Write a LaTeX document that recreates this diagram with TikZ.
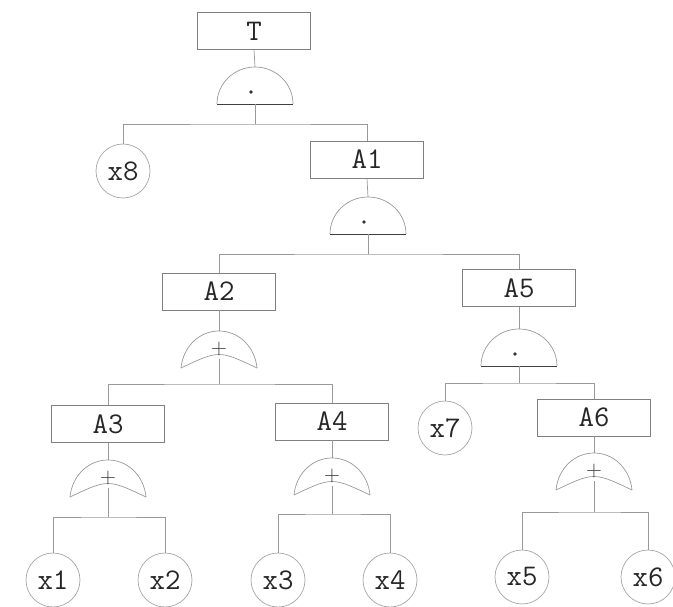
\documentclass[tikz,border=0pt]{standalone}
\begin{document}
\begin{tikzpicture}[x=1pt,y=-1pt]
\tikzset{
  lbl/.style={text=black!85, font=\fontsize{30}{34}\selectfont\ttfamily},
  conn/.style={draw=black!40, line width=0.7pt},
  evbox/.style={lbl, draw=black!50, line width=0.8pt, minimum width=113pt, minimum height=37pt, inner sep=0pt},
  basic/.style={lbl, circle, draw=black!35, line width=0.7pt, minimum size=54pt, inner sep=0pt},
  gateline/.style={draw=black!40, line width=0.7pt},
  gatebase/.style={draw=black!75, line width=0.9pt},
  andgate/.pic={
    \draw[gateline] (-38,0) .. controls (-38,-20.4) and (-21,-37) .. (0,-37) .. controls (21,-37) and (38,-20.4) .. (38,0);
    \draw[gatebase] (-38,0) -- (38,0);
    \fill[black!80] (-4,-12) circle[radius=1.8];
    \coordinate (-in) at (0,-37);
    \coordinate (-out) at (0,0);
  },
  orgate/.pic={
    \draw[gateline] (-38,0) .. controls (-36,-21) and (-20,-37) .. (0,-37) .. controls (20,-37) and (36,-21) .. (38,0);
    \draw[gateline] (38,0) .. controls (0,-18) .. (-38,0);
    \node[font=\fontsize{22}{22}\selectfont, text=black!80, inner sep=0pt] (-sym) at (0,-19) {+};
    \coordinate (-in) at (0,-37);
    \coordinate (-out) at (0,-9);
  }
}
\useasboundingbox (0,0) rectangle (673,607);

% events
\node[evbox] (T) at (254,31) {T};
\node[evbox] (A1) at (367,159.5) {A1};
\node[evbox] (A2) at (219,291.5) {A2};
\node[evbox] (A5) at (519,288) {A5};
\node[evbox] (A3) at (108,424) {A3};
\node[evbox] (A4) at (332,421.5) {A4};
\node[evbox] (A6) at (594,417.5) {A6};

% basic events
\node[basic] (x8) at (123,171) {x8};
\node[basic] (x7) at (445,428) {x7};
\node[basic] (x1) at (53,580) {x1};
\node[basic] (x2) at (165,580) {x2};
\node[basic] (x3) at (278,580) {x3};
\node[basic] (x4) at (390,580) {x4};
\node[basic] (x5) at (522,577) {x5};
\node[basic] (x6) at (648,577) {x6};

% gates
\pic (gT) at (255,104) {andgate};
\pic (gA1) at (368,234) {andgate};
\pic (gA2) at (219,368) {orgate};
\pic (gA5) at (519,366) {andgate};
\pic (gA3) at (108,497) {orgate};
\pic (gA4) at (332,495) {orgate};
\pic (gA6) at (594,490) {orgate};

% junctions
\coordinate (jT) at (255,124);
\coordinate (jA1) at (368,254);
\coordinate (jA2) at (219,384);
\coordinate (jA5) at (519,383);
\coordinate (jA3) at (108,517);
\coordinate (jA4) at (332,514);
\coordinate (jA6) at (594,512);

% connectors
\foreach \g in {T,A1,A2,A5,A3,A4,A6}{
  \draw[conn] (\g.south) -- (g\g-in);
  \draw[conn] (g\g-out) -- (j\g);
}
\draw[conn] (x8.north) |- (jT) -| (A1.north);
\draw[conn] (A2.north) |- (jA1) -| (A5.north);
\draw[conn] (A3.north) |- (jA2) -| (A4.north);
\draw[conn] (x7.north) |- (jA5) -| (A6.north);
\draw[conn] (x1.north) |- (jA3) -| (x2.north);
\draw[conn] (x3.north) |- (jA4) -| (x4.north);
\draw[conn] (x5.north) |- (jA6) -| (x6.north);
\end{tikzpicture}
\end{document}
